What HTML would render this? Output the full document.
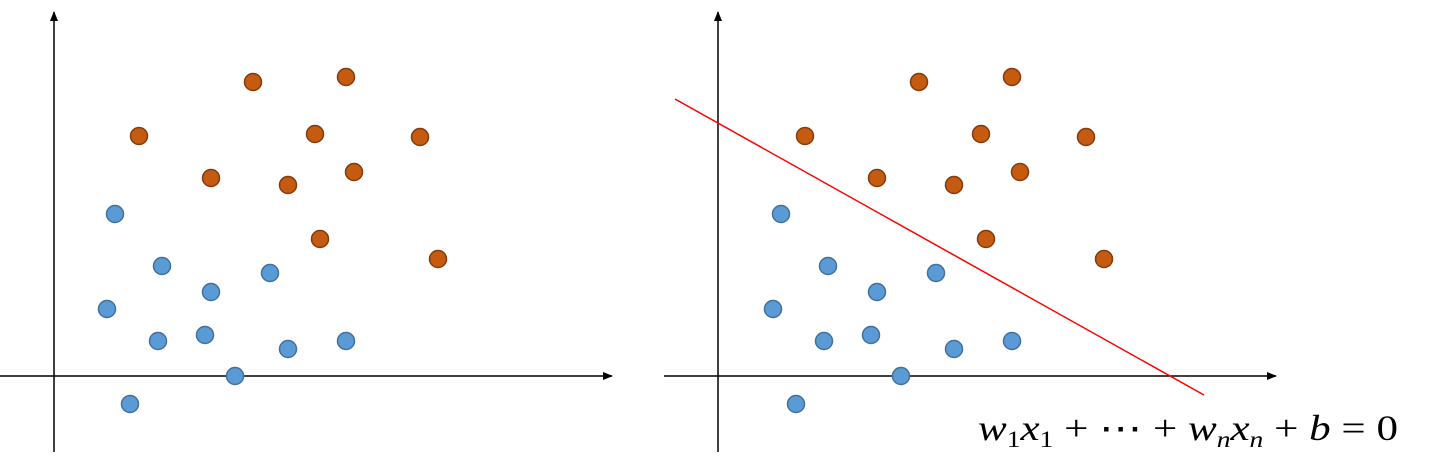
<!DOCTYPE html>
<html><head><meta charset="utf-8"><style>
html,body{margin:0;padding:0;background:#fff;width:1441px;height:457px;overflow:hidden}
svg{display:block}
</style></head><body>
<svg id="c" width="1441" height="457">
<defs><marker id="ar" markerWidth="10" markerHeight="10" refX="9" refY="5" orient="auto" markerUnits="userSpaceOnUse"><path d="M0,1 L10,5 L0,9 z" fill="#000"/></marker></defs>
<text x="978" y="440" textLength="420" lengthAdjust="spacingAndGlyphs" font-family="'Liberation Serif',serif" font-style="italic" font-size="36">w<tspan font-size="23" dy="7" font-style="normal">1</tspan><tspan dy="-7">x</tspan><tspan font-size="23" dy="7" font-style="normal">1</tspan><tspan dy="-7" font-style="normal"> + ⋯ + </tspan><tspan>w</tspan><tspan font-size="23" dy="7">n</tspan><tspan dy="-7">x</tspan><tspan font-size="23" dy="7">n</tspan><tspan dy="-7" font-style="normal"> + </tspan><tspan>b</tspan><tspan font-style="normal"> = 0</tspan></text>
</svg>
<script>
const orangeX=[19.9,29.2,8.5,26.1,36.6,15.7,23.4,30.0,26.6,38.4];
const orangeY=[29.4,29.9,24.0,24.2,23.9,19.8,19.1,20.4,13.7,11.7];
const blueX=[6.1,10.8,21.6,15.7,5.3,10.4,15.1,23.4,29.2,18.1,7.6];
const blueY=[16.2,11.0,10.3,8.4,6.7,3.5,4.1,2.7,3.5,0,-2.8];
const lineX=[-4.5,48.4];
const lineY=[27.7,-1.9];
const svg=document.getElementById('c');const NS='http://www.w3.org/2000/svg';
function mk(t,a){const e=document.createElementNS(NS,t);for(const k in a)e.setAttribute(k,a[k]);svg.appendChild(e);return e;}
const panels=[{ox:54,ax:54,name:'left'},{ox:720,ax:718,name:'right'}];
const oy=376;
panels.forEach((p,pi)=>{
  const sx=v=>p.ox+v*10, sy=v=>oy-v*10;
  let e=mk('line',{x1:p.ax-54,y1:oy,x2:p.ax+558,y2:oy,stroke:'#000','stroke-width':1.5,'marker-end':'url(#ar)'});
  
  
  e=mk('line',{x1:p.ax,y1:452,x2:p.ax,y2:12,stroke:'#000','stroke-width':1.5,'marker-end':'url(#ar)'});
  
  
  if(pi===1){
    e=mk('line',{x1:sx(lineX[0]),y1:sy(lineY[0]),x2:sx(lineX[1]),y2:sy(lineY[1]),stroke:'#ff0000','stroke-width':1.5});
    
    
  }
  orangeX.forEach((x,i)=>{
    const c=mk('circle',{cx:sx(x),cy:sy(orangeY[i]),r:8.5,fill:'#c55a11',stroke:'#843c0c','stroke-width':1.5});
    
    
  });
  blueX.forEach((x,i)=>{
    const c=mk('circle',{cx:sx(x),cy:sy(blueY[i]),r:8.5,fill:'#5b9bd5',stroke:'#41719c','stroke-width':1.5});
    
    
  });
});
svg.appendChild(svg.querySelector('text'));
</script>
</body></html>
